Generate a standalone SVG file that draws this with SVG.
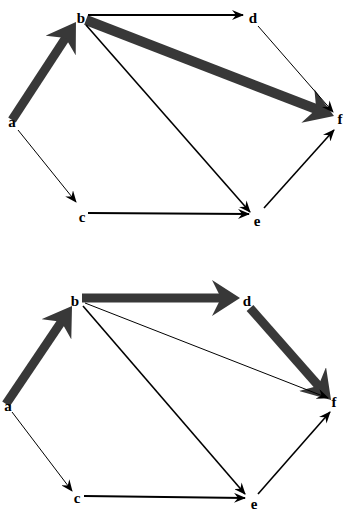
<svg xmlns="http://www.w3.org/2000/svg" width="346" height="513" viewBox="0 0 346 513">
<style>
.thin{stroke:#000;fill:none;stroke-width:1;marker-end:url(#sm)}
.mid{stroke:#000;fill:none;stroke-width:1.6;marker-end:url(#sm)}
.thick{stroke:#383838;fill:none;stroke-width:9;marker-end:url(#big)}
.lbl{font-family:"Liberation Serif",serif;font-weight:bold;font-size:15px;fill:#000;text-anchor:middle}
</style>
<defs>
<marker id="sm" markerUnits="userSpaceOnUse" viewBox="0 0 12 10" markerWidth="12" markerHeight="10" refX="11" refY="5" orient="auto"><path d="M0,0 L12,5 L0,10 L4,5 Z" fill="#000"/></marker>
<marker id="big" markerUnits="userSpaceOnUse" viewBox="0 0 28 36" markerWidth="28" markerHeight="36" refX="16" refY="18" orient="auto"><path d="M0,0 L28,18 L0,36 L9,18 Z" fill="#383838"/></marker>
</defs>
<g id="connectors">
<line class="thick" x1="12" y1="120" x2="69.4" y2="32.1"/>
<line class="thick" x1="86" y1="20" x2="322.8" y2="111.7" style="stroke-width:10"/>
<line class="mid" x1="88" y1="15" x2="243" y2="15" style="stroke-width:2"/>
<line class="mid" x1="86" y1="25" x2="250" y2="212"/>
<line class="thin" x1="18" y1="130" x2="76" y2="202"/>
<line class="mid" x1="88" y1="213" x2="249" y2="214" style="stroke-width:1.8"/>
<line class="thin" x1="258" y1="26" x2="333" y2="112"/>
<line class="mid" x1="264" y1="208" x2="334" y2="130"/>
<line class="thick" x1="6" y1="404" x2="65.3" y2="316"/>
<line class="thick" x1="82" y1="298" x2="228" y2="298"/>
<line class="thick" x1="250" y1="308" x2="323.1" y2="391"/>
<line class="thin" x1="85" y1="303" x2="328" y2="398"/>
<line class="mid" x1="83" y1="306" x2="245" y2="494"/>
<line class="thin" x1="12" y1="412" x2="72" y2="491"/>
<line class="mid" x1="84" y1="496" x2="245" y2="498" style="stroke-width:1.8"/>
<line class="mid" x1="258" y1="494" x2="330" y2="412"/>
</g>
<g id="top-a"><text class="lbl" x="12" y="127">a</text></g>
<g id="top-b"><text class="lbl" x="81" y="23">b</text></g>
<g id="top-c"><text class="lbl" x="82" y="222">c</text></g>
<g id="top-d"><text class="lbl" x="253" y="23">d</text></g>
<g id="top-e"><text class="lbl" x="257" y="226">e</text></g>
<g id="top-f"><text class="lbl" x="340" y="124">f</text></g>
<g id="bot-a"><text class="lbl" x="8" y="411">a</text></g>
<g id="bot-b"><text class="lbl" x="75" y="306">b</text></g>
<g id="bot-c"><text class="lbl" x="77" y="503">c</text></g>
<g id="bot-d"><text class="lbl" x="247" y="306">d</text></g>
<g id="bot-e"><text class="lbl" x="254" y="509">e</text></g>
<g id="bot-f"><text class="lbl" x="334" y="407">f</text></g>
</svg>
